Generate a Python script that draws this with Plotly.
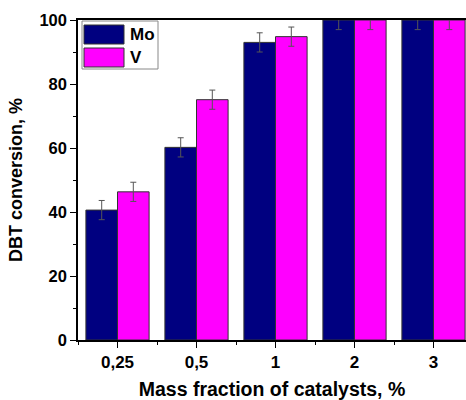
import plotly.graph_objects as go

categories = ["0,25", "0,5", "1", "2", "3"]
mo_values = [40.6, 60.2, 93.0, 100, 100]
v_values = [46.3, 75.1, 94.8, 100, 100]
mo_err = [3, 3, 3, 3, 3]
v_err = [3, 3, 3, 3, 3]
series_names = ["Mo", "V"]
colors = ["#000080", "#FF00FF"]

W, H = 466, 400
L, T, B, R = 78, 20, 60, 0
pw, ph = W - L - R, H - T - B

def px_x(x):
    return (x - L) / pw

def px_y(y):
    return (H - B - y) / ph

xpos = list(range(len(categories)))

fig = go.Figure()
for name, vals, errs, col in [(series_names[0], mo_values, mo_err, colors[0]),
                              (series_names[1], v_values, v_err, colors[1])]:
    fig.add_trace(go.Bar(
        x=xpos, y=vals, name=name,
        marker=dict(color=col, line=dict(color="#333333", width=1)),
        error_y=dict(type="data", array=errs, visible=True, color="#555555",
                     thickness=1, width=3),
        showlegend=False,
    ))

font_family = "Liberation Sans, Arial, sans-serif"

fig.update_layout(
    width=W, height=H,
    margin=dict(l=L, r=R, t=T, b=B),
    paper_bgcolor="white", plot_bgcolor="white",
    barmode="group", bargap=0.2, bargroupgap=0,
    font=dict(family=font_family, color="black"),
    xaxis=dict(
        range=[-0.5, -0.5 + pw / 79.0],
        automargin=False,
        tickmode="array", tickvals=xpos, ticktext=categories,
        ticks="outside", ticklen=6, tickwidth=1.2, tickcolor="black",
        minor=dict(tick0=0.5, dtick=1, ticks="outside", ticklen=3,
                   tickwidth=1.2, tickcolor="black"),
        showline=True, linecolor="black", linewidth=1.5, mirror=True,
        showgrid=False, zeroline=False,
        tickfont=dict(size=17, family=font_family, weight="bold"),
        title=dict(text="<b>Mass fraction of catalysts, %</b>",
                   font=dict(size=19.5, family=font_family), standoff=17),
    ),
    yaxis=dict(
        range=[0, 100],
        automargin=False,
        tickmode="array", tickvals=[0, 20, 40, 60, 80, 100],
        ticks="outside", ticklen=6, tickwidth=1.2, tickcolor="black",
        minor=dict(tickvals=[10, 30, 50, 70, 90], ticks="outside", ticklen=3,
                   tickwidth=1.2, tickcolor="black"),
        showline=True, linecolor="black", linewidth=1.5, mirror=False,
        showgrid=False, zeroline=False,
        tickfont=dict(size=16.5, family=font_family, weight="bold"),
        title=dict(text="<b>DBT conversion, %</b>",
                   font=dict(size=18, family=font_family), standoff=12),
    ),
)

# custom legend (box, swatches, labels)
shapes = [
    dict(type="rect", xref="paper", yref="paper",
         x0=px_x(82), x1=px_x(158), y0=px_y(69), y1=px_y(21),
         line=dict(color="#888888", width=1), fillcolor="white", layer="above"),
    dict(type="rect", xref="paper", yref="paper",
         x0=px_x(84), x1=px_x(124), y0=px_y(44), y1=px_y(25),
         line=dict(color="#333333", width=1), fillcolor=colors[0], layer="above"),
    dict(type="rect", xref="paper", yref="paper",
         x0=px_x(84), x1=px_x(124), y0=px_y(67), y1=px_y(48),
         line=dict(color="#333333", width=1), fillcolor=colors[1], layer="above"),
]
fig.update_layout(shapes=shapes)
for name, yc in [(series_names[0], 34.5), (series_names[1], 57.5)]:
    fig.add_annotation(xref="paper", yref="paper", x=px_x(128), y=px_y(yc),
                       text=f"<b>{name}</b>", showarrow=False,
                       xanchor="left", yanchor="middle",
                       font=dict(size=17, family=font_family, color="black"))

fig.write_html("out.html")
